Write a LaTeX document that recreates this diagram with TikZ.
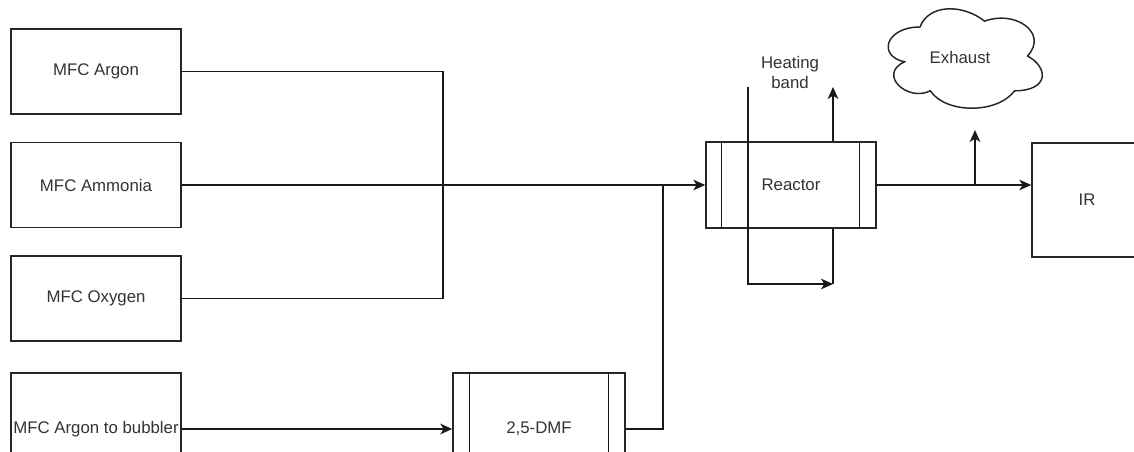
\documentclass[tikz,border=0pt]{standalone}
\usepackage{fontspec}
\setmainfont{Liberation Sans}
\usetikzlibrary{arrows.meta,calc}
\begin{document}
\begin{tikzpicture}[x=0.75pt,y=-0.75pt,
  line width=1.1pt,
  every node/.style={font=\fontsize{12.6}{15}\selectfont, text=black!80},
  box/.style={draw=black!85, fill=white, inner sep=0pt, minimum width=127.5pt, minimum height=64pt},
  wire/.style={draw=black!90, line width=1.1pt},
  arr/.style={wire, -{Stealth[length=9pt,width=8pt,inset=2.5pt]}}
]
\useasboundingbox (0,0) rectangle (1134,452);

% left MFC boxes
\node[box] (argon)   at (96,71.5)  {MFC Argon};
\node[box] (ammonia) at (96,185)   {MFC Ammonia};
\node[box] (oxygen)  at (96,298.5) {MFC Oxygen};
\node[box, minimum height=84pt] (bubbler) at (96,429) {MFC Argon to bubbler};

% 2,5-DMF process box
\node[box, minimum width=129pt, minimum height=84pt] (dmf) at (539,429) {2,5-DMF};
\draw[wire] ($(dmf.north west)+(17,0)$) -- ($(dmf.south west)+(17,0)$);
\draw[wire] ($(dmf.north east)+(-17,0)$) -- ($(dmf.south east)+(-17,0)$);

% Reactor process box
\node[box, minimum height=64.5pt] (reactor) at (791,185) {Reactor};
\draw[wire] ($(reactor.north west)+(16,0)$) -- ($(reactor.south west)+(16,0)$);
\draw[wire] ($(reactor.north east)+(-17,0)$) -- ($(reactor.south east)+(-17,0)$);

% IR
\node[box, minimum width=82.5pt, minimum height=85.5pt] (ir) at (1087,200) {IR};

% Heating band label
\node[align=center] (hb) at (790,72) {Heating\\band};

% Exhaust cloud
\draw[draw=black!85, fill=white] (920,27)
  .. controls (885.6,27) and (877,56) .. (904.5,61.8)
  .. controls (877,74.6) and (908,102.4) .. (930.3,90.8)
  .. controls (945.8,114) and (997.4,114) .. (1014.6,90.8)
  .. controls (1049,90.8) and (1049,67.6) .. (1027.5,56)
  .. controls (1049,32.8) and (1014.6,9.6) .. (984.5,21.2)
  .. controls (963,3.8) and (928.6,3.8) .. (920,27) -- cycle;
\node (exhaust) at (960,57) {Exhaust};

% coordinates
\coordinate (j1) at (443,298.5);
\coordinate (j2) at (663,185);
\coordinate (hbtop) at (748,87);
\coordinate (hbbot) at (748,284);
\coordinate (hbend) at (833,284);
\coordinate (rtopout) at (833,87);
\coordinate (exbranch) at (975,185);
\coordinate (exout) at (975,130);

% connectors
\draw[wire] (argon.east) -| (j1) -- (oxygen.east);
\draw[arr] (ammonia.east) -- (reactor.west);
\draw[arr] (bubbler.east) -- (dmf.west);
\draw[wire] (dmf.east) -| (j2);
\draw[arr] (reactor.east) -- (reactor.east -| ir.west);
\draw[arr] (exbranch) -- (exout);
\draw[arr] (reactor.north -| rtopout) -- (rtopout);
\draw[arr] (hbtop) -- (hbbot) -- (hbend);
\draw[wire] (reactor.south -| hbend) -- (hbend);
\end{tikzpicture}
\end{document}
